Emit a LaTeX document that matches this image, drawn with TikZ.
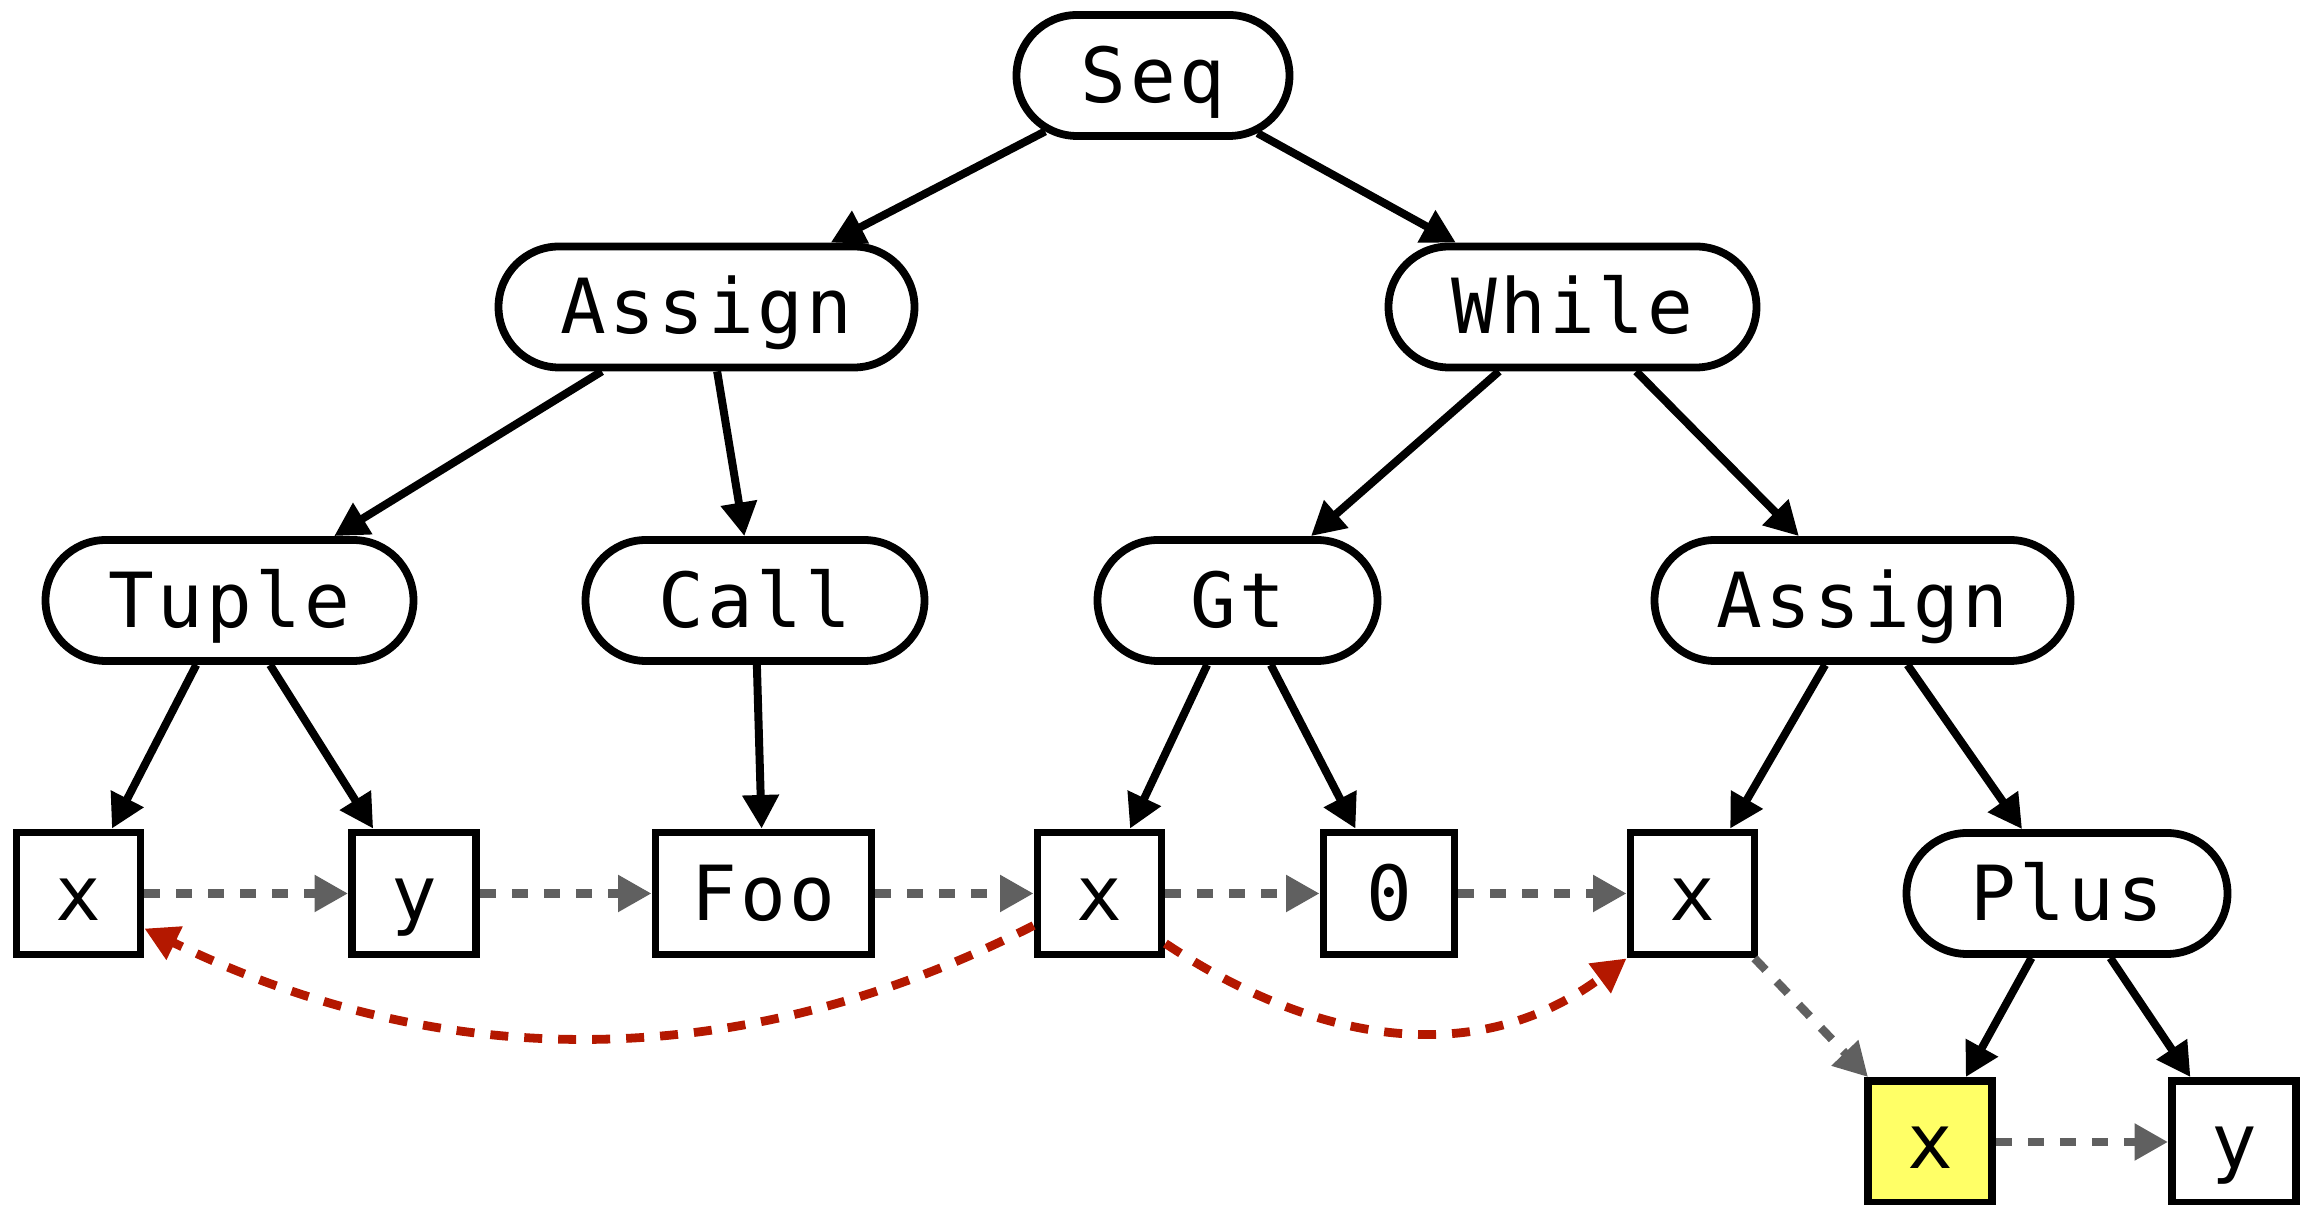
\documentclass[tikz,border=0pt]{standalone}
\usepackage{fontspec}
\newfontfamily\codefont{DejaVu Sans Mono}[LetterSpace=4.5]
\usetikzlibrary{arrows.meta,shapes.misc,calc}
\definecolor{edgegray}{RGB}{96,96,96}
\definecolor{linkred}{RGB}{180,24,0}
\definecolor{hilite}{RGB}{255,255,102}
\begin{document}
\begin{tikzpicture}[x=0.25pt,y=-0.25pt,
  astnode/.style={font=\codefont\fontsize{19pt}{19pt}\selectfont,
    text height=13.5pt, text depth=0pt, inner sep=0pt,
    line width=1.95pt, draw=black, fill=white},
  oval/.style={astnode, rounded rectangle, minimum height=30.25pt},
  cell/.style={astnode, rectangle, minimum height=30.5pt, minimum width=31pt},
  tip/.style={-{Triangle[length=8.4pt,width=8.75pt]}},
  tree/.style={tip, line width=2pt, black},
  seqlink/.style={tip, line width=2.1pt, edgegray, dash pattern=on 4pt off 4pt},
  uselink/.style={tip, line width=2.2pt, linkred, dash pattern=on 4.5pt off 4pt}]

\useasboundingbox (0,0) rectangle (2303,1205);

% syntax tree nodes
\node[oval, minimum width=68.25pt] (seq)     at (1153,75.5)  {Seq};
\node[oval, minimum width=104pt]   (assignA) at (706.5,307)  {Assign};
\node[oval, minimum width=92pt]    (while)   at (1572.5,307) {While};
\node[oval, minimum width=92pt]    (tuple)   at (229.5,600.5) {Tuple};
\node[oval, minimum width=84.75pt] (call)    at (755,600.5)  {Call};
\node[oval, minimum width=70pt]    (gt)      at (1237.5,600.5) {Gt};
\node[oval, minimum width=104pt]   (assignB) at (1862.5,600.5) {Assign};
\node[oval, minimum width=80.25pt] (plus)    at (2067,893.5) {Plus};

% leaf cells
\node[cell] (x1)   at (78.5,893.5)   {x};
\node[cell] (y1)   at (414,893.5)    {y};
\node[cell, minimum width=54pt] (foo) at (763.5,893.5) {Foo};
\node[cell] (x2)   at (1099.5,893.5) {x};
\node[cell, minimum width=32.75pt] (zero) at (1389,893.5) {0};
\node[cell] (x3)   at (1692.5,893.5) {x};
\node[cell, fill=hilite] (xs) at (1930,1142) {x};
\node[cell] (y2)   at (2234,1142)    {y};

% parent-child edges
\draw[tree] (seq) -- (assignA);
\draw[tree] (seq) -- (while);
\draw[tree] (assignA) -- (tuple);
\draw[tree] (assignA) -- (call);
\draw[tree] (while) -- (gt);
\draw[tree] (while) -- (assignB);
\draw[tree] (tuple) -- (x1);
\draw[tree] (tuple) -- (y1);
\draw[tree] (call) -- (foo);
\draw[tree] (gt) -- (x2);
\draw[tree] (gt) -- (zero);
\draw[tree] (assignB) -- (x3);
\draw[tree] (assignB) -- (plus);
\draw[tree] (plus) -- (xs);
\draw[tree] (plus) -- (y2);

% evaluation order
\draw[seqlink] (x1) -- (y1);
\draw[seqlink] (y1) -- (foo);
\draw[seqlink] (foo) -- (x2);
\draw[seqlink] (x2) -- (zero);
\draw[seqlink] (zero) -- (x3);
\draw[seqlink] (x3) -- (xs);
\draw[seqlink] (xs) -- (y2);

% variable references
\draw[uselink] ($(x2.west)+(0,32)$) .. controls +(-290,148) and +(302,147) .. ($(x1.east)+(0,35)$);
\draw[uselink] ($(x2.east)+(0,50)$) .. controls +(150,100) and +(-150,112) .. (x3.south west);
\end{tikzpicture}
\end{document}
